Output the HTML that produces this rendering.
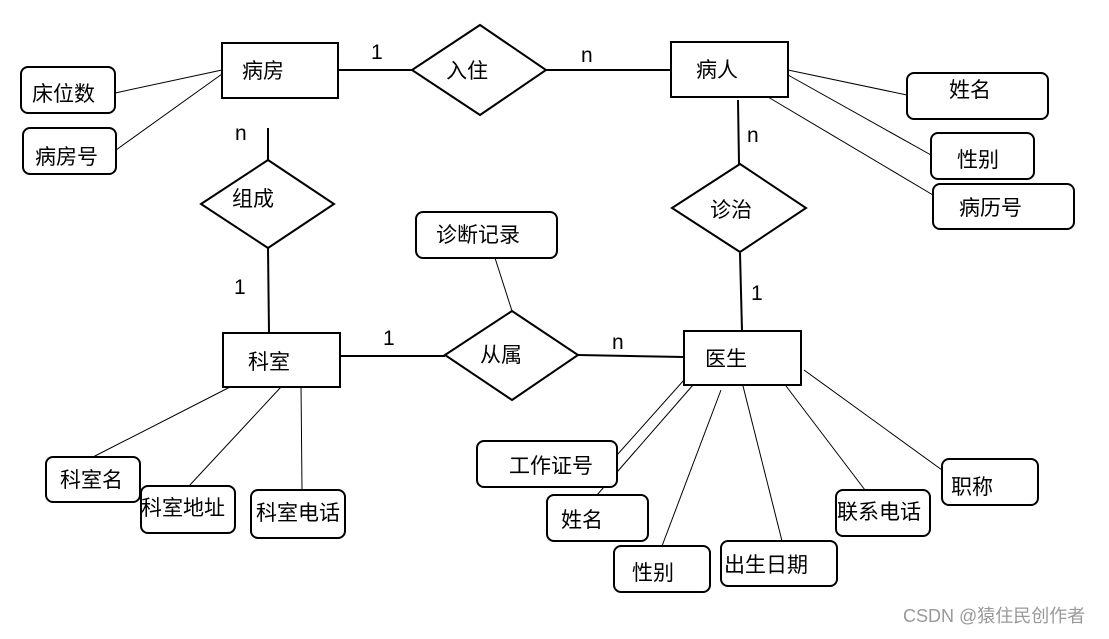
<!DOCTYPE html>
<html><head><meta charset="utf-8"><style>
body{margin:0;background:#fff}
svg text{font-family:"Liberation Sans","Noto Sans CJK SC",sans-serif;font-size:21px;fill:#000}
</style></head><body>
<svg width="1109" height="634" viewBox="0 0 1109 634" xmlns="http://www.w3.org/2000/svg">
<g stroke="#000" stroke-width="2" fill="none">
<line x1="338" y1="70" x2="412" y2="70"/>
<line x1="546" y1="70" x2="671" y2="70"/>
<line x1="268" y1="128" x2="268" y2="160"/>
<line x1="268" y1="248" x2="269" y2="333"/>
<line x1="738" y1="100" x2="739" y2="164"/>
<line x1="740" y1="253" x2="742" y2="331"/>
<line x1="340" y1="356" x2="445" y2="356"/>
<line x1="578" y1="355" x2="684" y2="357"/>
</g>
<g stroke="#000" stroke-width="1" fill="none">
<line x1="115" y1="93" x2="222" y2="70"/>
<line x1="116" y1="150" x2="222" y2="74"/>
<line x1="788" y1="70" x2="907" y2="95"/>
<line x1="788" y1="75" x2="931" y2="155"/>
<line x1="768" y1="97" x2="933" y2="195"/>
<line x1="495" y1="258" x2="512" y2="311"/>
<line x1="93" y1="457" x2="232" y2="386"/>
<line x1="189" y1="486" x2="281" y2="387"/>
<line x1="302" y1="490" x2="301" y2="383"/>
<line x1="617" y1="455" x2="684" y2="380"/>
<line x1="597" y1="495" x2="693" y2="385"/>
<line x1="662" y1="546" x2="721" y2="390"/>
<line x1="782" y1="541" x2="743" y2="386"/>
<line x1="865" y1="490" x2="786" y2="386"/>
<line x1="942" y1="470" x2="804" y2="370"/>
</g>
<g stroke="#000" stroke-width="2" fill="#fff">
<rect x="222" y="43" width="116" height="55"/>
<rect x="671" y="42" width="117" height="55"/>
<rect x="223" y="333" width="117" height="54"/>
<rect x="684" y="331" width="117" height="54"/>
<polygon points="412,70 480,25 546,70 480,115"/>
<polygon points="201,204 268,160 334,204 268,248"/>
<polygon points="672,208 740,164 806,208 740,252"/>
<polygon points="445,355 512,311 578,355 512,400"/>
<rect x="21" y="67" width="94" height="46" rx="7"/>
<rect x="23" y="128" width="93" height="46" rx="7"/>
<rect x="907" y="73" width="141" height="46" rx="7"/>
<rect x="931" y="133" width="103" height="46" rx="7"/>
<rect x="933" y="184" width="141" height="45" rx="7"/>
<rect x="416" y="212" width="141" height="46" rx="7"/>
<rect x="46" y="457" width="94" height="45" rx="7"/>
<rect x="141" y="486" width="94" height="47" rx="7"/>
<rect x="251" y="490" width="94" height="48" rx="7"/>
<rect x="477" y="441" width="140" height="46" rx="7"/>
<rect x="547" y="495" width="101" height="46" rx="7"/>
<rect x="614" y="546" width="96" height="46" rx="7"/>
<rect x="721" y="541" width="116" height="45" rx="7"/>
<rect x="836" y="490" width="94" height="46" rx="7"/>
<rect x="942" y="459" width="96" height="46" rx="7"/>
</g>
<text x="242" y="78">病房</text>
<text x="696" y="77">病人</text>
<text x="248" y="369">科室</text>
<text x="705" y="366">医生</text>
<text x="446" y="78">入住</text>
<text x="232" y="206">组成</text>
<text x="710" y="217">诊治</text>
<text x="480" y="362">从属</text>
<text x="32" y="101">床位数</text>
<text x="35" y="164">病房号</text>
<text x="949" y="97">姓名</text>
<text x="957" y="167">性别</text>
<text x="959" y="215">病历号</text>
<text x="436" y="242">诊断记录</text>
<text x="60" y="487">科室名</text>
<text x="141" y="515">科室地址</text>
<text x="256" y="520">科室电话</text>
<text x="509" y="473">工作证号</text>
<text x="561" y="527">姓名</text>
<text x="632" y="580">性别</text>
<text x="724" y="572">出生日期</text>
<text x="837" y="519">联系电话</text>
<text x="951" y="494">职称</text>
<g style="font-size:18px">
<text x="371" y="59">1</text>
<text x="581" y="62">n</text>
<text x="235" y="140">n</text>
<text x="234" y="294">1</text>
<text x="747" y="142">n</text>
<text x="751" y="300">1</text>
<text x="383" y="345">1</text>
<text x="612" y="349">n</text>
</g>
<text x="903" y="622" style="font-size:18px;fill:#999">CSDN @猿住民创作者</text>
</svg>
</body></html>
